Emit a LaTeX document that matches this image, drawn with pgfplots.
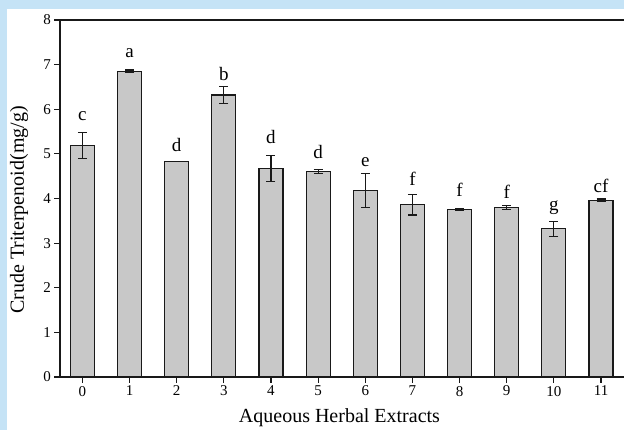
\documentclass[border=0pt]{standalone}
\usepackage{fontspec}
\setmainfont{Liberation Serif}
\usepackage{pgfplots}
\pgfplotsset{compat=1.18}
\usepackage{pgfplotstable}

\definecolor{band}{RGB}{197,227,246}
\definecolor{barfill}{RGB}{200,200,200}
\definecolor{ink}{RGB}{25,25,25}

% mean, standard deviation, significance letter and the height of its baseline
\pgfplotstableread{
x  y     err   lab  ly
0  5.19  0.29  c    5.74
1  6.85  0.03  a    7.17
2  4.83  0.00  d    5.05
3  6.32  0.19  b    6.65
4  4.67  0.29  d    5.24
5  4.61  0.05  d    4.90
6  4.18  0.38  e    4.72
7  3.86  0.23  f    4.30
8  3.76  0.02  f    4.05
9  3.80  0.05  f    4.01
10 3.32  0.17  g    3.73
11 3.96  0.03  cf   4.13
}\extracts

\begin{document}
\begin{tikzpicture}[x=1bp,y=1bp]
\useasboundingbox (0,0) rectangle (624,-430);
\fill[band] (0,0) rectangle (624,-430);
\fill[white] (7,-9) rectangle (624,-430);
\begin{axis}[
  at={(60bp,-377bp)}, anchor=south west,
  scale only axis, width=564.6bp, height=357bp,
  xmin=-0.475, xmax=11.5, ymin=0, ymax=8,
  axis x line*=bottom, axis y line*=left,
  axis line style={-, line width=1.1bp, ink},
  tick align=outside, major tick length=5.5bp,
  every tick/.style={line width=1.1bp, ink},
  xtick={0,...,11}, ytick={0,...,8},
  /pgf/number format/assume math mode=true,
  ticklabel style={font=\fontsize{15bp}{17bp}\selectfont},
  xlabel={Aqueous Herbal Extracts},
  ylabel={Crude Triterpenoid(mg/g)},
  label style={font=\fontsize{20bp}{23bp}\selectfont},
  xlabel style={at={(axis description cs:0.495,-0.115)}, anchor=center},
  ylabel style={at={(axis description cs:-0.0726,0.468)}, anchor=center},
  clip=false,
]
\draw[line width=1.1bp, ink] (rel axis cs:0,1) -- (rel axis cs:1,1);

\addplot[ybar, bar width=24bp, fill=barfill, draw=ink, line width=1.1bp,
  error bars/.cd, y dir=both, y explicit,
  error bar style={line width=1.1bp, ink},
  error mark options={rotate=90, mark size=4.5bp, line width=1.1bp, ink}]
  table[x=x, y=y, y error=err] {\extracts};

\addplot[only marks, mark=none, nodes near coords, point meta=explicit symbolic,
  nodes near coords style={anchor=base, inner sep=0pt,
    font=\fontsize{19bp}{21bp}\selectfont}]
  table[x=x, y=ly, meta=lab] {\extracts};
\end{axis}
\end{tikzpicture}
\end{document}
